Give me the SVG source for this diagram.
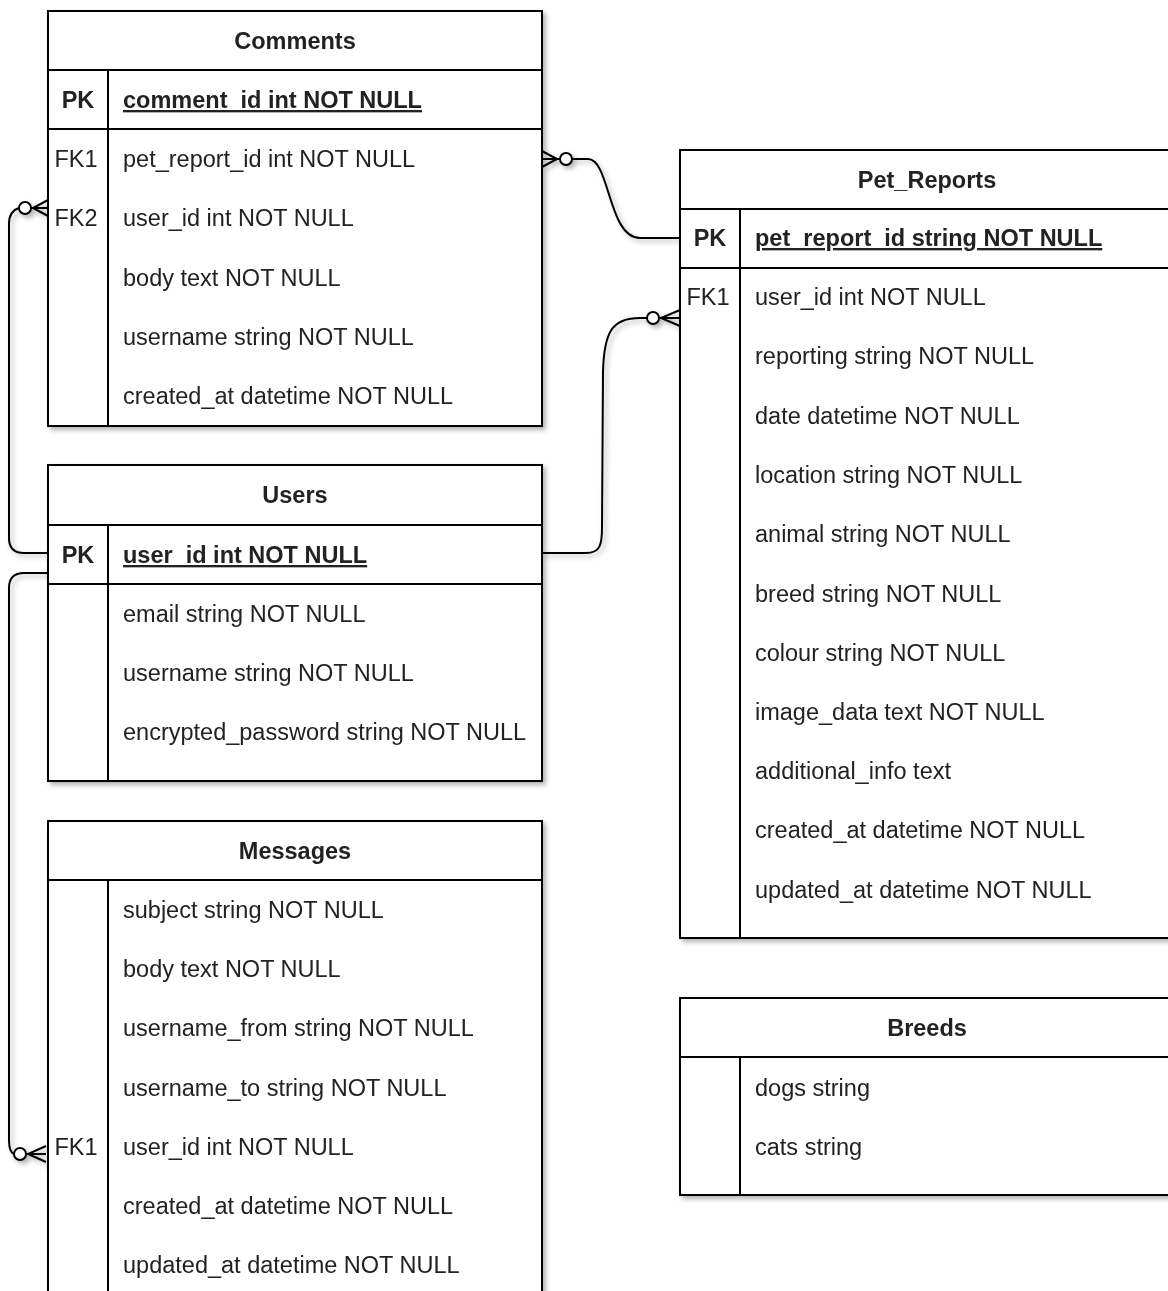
<svg xmlns="http://www.w3.org/2000/svg" width="1168" height="1291" viewBox="0 0 1168 1291">
  <defs>
    <filter id="shadow" x="-5%" y="-5%" width="115%" height="115%">
      <feDropShadow dx="3" dy="3" stdDeviation="2.4" flood-color="#000" flood-opacity="0.3"/>
    </filter>
    <style>
      .box { fill: #fff; stroke: #000; stroke-width: 2; }
      .ln { stroke: #000; stroke-width: 2; fill: none; }
      .t { font-family: "Liberation Sans", Arial, sans-serif; font-size: 23.5px; fill: #222; }
      .h { font-weight: bold; text-anchor: middle; }
      .k { text-anchor: middle; }
      .pk { font-weight: bold; }
      .u { text-decoration: underline; }
      .edge { stroke: #000; stroke-width: 2; fill: none; }
      .dot { stroke: #000; stroke-width: 2; fill: #fff; }
    </style>
  </defs>
  <rect width="1168" height="1291" fill="#fff"/>

  <g filter="url(#shadow)">
    <!-- Comments table -->
    <g id="comments">
      <rect class="box" x="48" y="11" width="494" height="415"/>
      <line class="ln" x1="48" y1="70" x2="542" y2="70"/>
      <line class="ln" x1="48" y1="129" x2="542" y2="129"/>
      <line class="ln" x1="108" y1="70" x2="108" y2="426"/>
      <text class="t h" x="295" y="49">Comments</text>
      <text class="t k pk" x="78" y="108">PK</text>
      <text class="t pk u" x="123" y="108">comment_id int NOT NULL</text>
      <text class="t k" x="76" y="167">FK1</text>
      <text class="t" x="123" y="167">pet_report_id int NOT NULL</text>
      <text class="t k" x="76" y="226">FK2</text>
      <text class="t" x="123" y="226">user_id int NOT NULL</text>
      <text class="t" x="123" y="286">body text NOT NULL</text>
      <text class="t" x="123" y="345">username string NOT NULL</text>
      <text class="t" x="123" y="404">created_at datetime NOT NULL</text>
    </g>

    <!-- Users table -->
    <g id="users">
      <rect class="box" x="48" y="465" width="494" height="316"/>
      <line class="ln" x1="48" y1="525" x2="542" y2="525"/>
      <line class="ln" x1="48" y1="584" x2="542" y2="584"/>
      <line class="ln" x1="108" y1="525" x2="108" y2="781"/>
      <text class="t h" x="295" y="503">Users</text>
      <text class="t k pk" x="78" y="563">PK</text>
      <text class="t pk u" x="123" y="563">user_id int NOT NULL</text>
      <text class="t" x="123" y="622">email string NOT NULL</text>
      <text class="t" x="123" y="681">username string NOT NULL</text>
      <text class="t" x="123" y="740">encrypted_password string NOT NULL</text>
    </g>

    <!-- Messages table (runs past the lower edge) -->
    <g id="messages">
      <rect class="box" x="48" y="821" width="494" height="500"/>
      <line class="ln" x1="48" y1="880" x2="542" y2="880"/>
      <line class="ln" x1="108" y1="880" x2="108" y2="1321"/>
      <text class="t h" x="295" y="859">Messages</text>
      <text class="t" x="123" y="918">subject string NOT NULL</text>
      <text class="t" x="123" y="977">body text NOT NULL</text>
      <text class="t" x="123" y="1036">username_from string NOT NULL</text>
      <text class="t" x="123" y="1096">username_to string NOT NULL</text>
      <text class="t k" x="76" y="1155">FK1</text>
      <text class="t" x="123" y="1155">user_id int NOT NULL</text>
      <text class="t" x="123" y="1214">created_at datetime NOT NULL</text>
      <text class="t" x="123" y="1273">updated_at datetime NOT NULL</text>
    </g>

    <!-- Pet_Reports table -->
    <g id="pet_reports">
      <rect class="box" x="680" y="150" width="495" height="788"/>
      <line class="ln" x1="680" y1="209" x2="1175" y2="209"/>
      <line class="ln" x1="680" y1="268" x2="1175" y2="268"/>
      <line class="ln" x1="740" y1="209" x2="740" y2="938"/>
      <text class="t h" x="927" y="188">Pet_Reports</text>
      <text class="t k pk" x="710" y="246">PK</text>
      <text class="t pk u" x="755" y="246">pet_report_id string NOT NULL</text>
      <text class="t k" x="708" y="305">FK1</text>
      <text class="t" x="755" y="305">user_id int NOT NULL</text>
      <text class="t" x="755" y="364">reporting string NOT NULL</text>
      <text class="t" x="755" y="424">date datetime NOT NULL</text>
      <text class="t" x="755" y="483">location string NOT NULL</text>
      <text class="t" x="755" y="542">animal string NOT NULL</text>
      <text class="t" x="755" y="602">breed string NOT NULL</text>
      <text class="t" x="755" y="661">colour string NOT NULL</text>
      <text class="t" x="755" y="720">image_data text NOT NULL</text>
      <text class="t" x="755" y="779">additional_info text</text>
      <text class="t" x="755" y="838">created_at datetime NOT NULL</text>
      <text class="t" x="755" y="898">updated_at datetime NOT NULL</text>
    </g>

    <!-- Breeds table -->
    <g id="breeds">
      <rect class="box" x="680" y="998" width="495" height="197"/>
      <line class="ln" x1="680" y1="1057" x2="1175" y2="1057"/>
      <line class="ln" x1="740" y1="1057" x2="740" y2="1195"/>
      <text class="t h" x="927" y="1036">Breeds</text>
      <text class="t" x="755" y="1096">dogs string</text>
      <text class="t" x="755" y="1155">cats string</text>
    </g>

    <!-- Relationships (zero-or-many ends) -->
    <g id="connectors">
      <!-- Comments.pet_report_id -> Pet_Reports.pet_report_id -->
      <path class="edge" d="M572,159 L588,159 C610,159 608,238 640,238 L680,238"/>
      <path class="edge" d="M542,151 L557,159 L542,167 M542,159 L560,159"/>
      <circle class="dot" cx="566" cy="159" r="6"/>

      <!-- Users.user_id -> Pet_Reports.user_id -->
      <path class="edge" d="M542,553 L586,553 C600,553 602,545 602,528 L603,372 C604,332 612,318 640,318 L648,318"/>
      <path class="edge" d="M680,310 L661,318 L680,326 M680,318 L659,318"/>
      <circle class="dot" cx="653" cy="318" r="6"/>

      <!-- Users.user_id -> Comments.user_id -->
      <path class="edge" d="M48,553 L24,553 Q9,553 9,538 L9,224 Q9,211 19,208"/>
      <path class="edge" d="M48,200 L33,208 L48,216 M48,208 L31,208"/>
      <circle class="dot" cx="25" cy="208" r="6"/>

      <!-- Users.user_id -> Messages.user_id -->
      <path class="edge" d="M48,573 L24,573 Q9,573 9,588 L9,1140 Q9,1152 14,1154"/>
      <path class="edge" d="M46,1146 L28,1154 L46,1162 M46,1154 L26,1154"/>
      <circle class="dot" cx="20" cy="1154" r="6"/>
    </g>
  </g>
</svg>
